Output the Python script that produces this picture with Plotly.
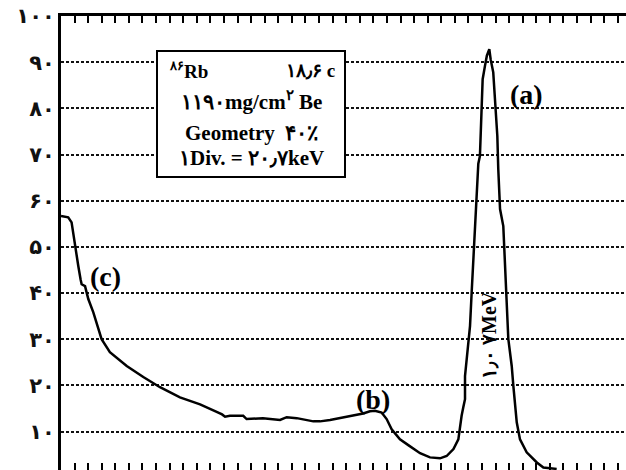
import plotly.graph_objects as go

# ---- data (x in channel divisions, y in relative counts) ----
channel = [0, 0.53, 0.78, 1.03, 1.27, 1.44, 1.52, 1.77, 2.01, 2.38, 2.75, 2.99, 3.6, 4.84, 6.06,
           7.29, 8.76, 10.24, 11.34, 11.86, 12.08, 12.44, 13.42, 13.67, 14.87, 16.13, 16.62, 17.36,
           18.58, 19.07, 19.81, 20.54, 21.52, 22.25, 22.75, 23.12, 23.61, 23.98, 24.35, 24.96, 25.6,
           26.44, 27.17, 27.91, 28.4, 28.9, 29.26, 29.38, 29.5, 29.62, 29.75, 29.75, 29.88, 30.0,
           30.12, 30.24, 30.36, 30.49, 30.62, 30.73, 30.85, 30.98, 31.05, 31.22, 31.36, 31.54,
           31.64, 31.83, 31.96, 32.03, 32.13, 32.2, 32.33, 32.57, 32.7, 32.82, 32.94, 33.19, 33.31,
           33.43, 33.56, 33.8, 34.29, 35.04, 35.52, 36.5]
counts = [56.7, 56.4, 55.3, 50.2, 45.9, 43.0, 41.9, 41.5, 38.7, 35.8, 32.2, 30.0, 27.2, 24.2, 21.8,
          19.6, 17.4, 15.9, 14.4, 13.7, 13.2, 13.4, 13.4, 12.7, 12.9, 12.5, 13.1, 12.9,
          12.2, 12.2, 12.5, 12.9, 13.5, 13.9, 14.4, 14.5, 14.1, 12.7, 10.5, 8.3, 7.0,
          5.3, 4.4, 4.2, 4.7, 6.2, 8.3, 11.2, 13.4, 15.2, 17.0, 22.0, 25.7, 30.0,
          32.9, 40.1, 47.3, 54.5, 60.3, 68.0, 69.7, 79.1, 86.3, 89.2, 91.4, 92.8,
          90.6, 87.8, 82.7, 79.1, 74.0, 66.8, 58.2, 54.5, 47.3, 37.9, 30.0, 24.2, 19.9,
          15.6, 12.0, 8.3, 5.5, 3.3, 2.2, 1.9]

y_tickvals = [10, 20, 30, 40, 50, 60, 70, 80, 90, 100]
y_ticktext = ["۱۰", "۲۰", "۳۰", "۴۰", "۵۰", "۶۰", "۷۰", "۸۰", "۹۰", "۱۰۰"]
zero_label = "۰"

source_label = "<sup>۸۶</sup>Rb"
activity_label = "۱۸٫۶ c"
info_lines = ["۱۱۹۰mg/cm<sup>۲</sup> Be", "Geometry  ۴۰٪", "۱Div. = ۲۰٫۷keV"]
peak_labels = ["(a)", "(b)", "(c)"]
peak_energy = "۱٫۰ ۷MeV"

# ---- layout geometry ----
W, H = 626, 470
ML, MR, MT, MB = 61, 0, 16, 0
XMAX = (W - ML - MR) / 13.58
YMIN = 100 - (H - MB - MT) / 4.617

def px2x(px):
    return (px - ML) / 13.58

def py2y(py):
    return 100 - (py - MT) / 4.617

fig = go.Figure()
fig.add_trace(go.Scatter(x=channel, y=counts, mode="lines",
                         line=dict(color="black", width=2.5), showlegend=False))

serif = "Liberation Serif, DejaVu Serif, serif"
box_font = dict(family=serif, size=21, color="black")
anns = []
anns.append(dict(x=px2x(167), y=py2y(70), text="<b>" + source_label + "</b>", xanchor="left",
                 font=dict(family=serif, size=19, color="black"), showarrow=False))
anns.append(dict(x=px2x(337), y=py2y(70), text="<b>" + activity_label + "</b>", xanchor="right",
                 font=dict(family=serif, size=19, color="black"), showarrow=False))
for txt, py in zip(info_lines, [100, 133, 158]):
    anns.append(dict(x=px2x(251), y=py2y(py), text="<b>" + txt + "</b>", xanchor="center",
                     font=box_font, showarrow=False))
for txt, (px, py) in zip(peak_labels, [(526, 94), (373, 399), (105, 276)]):
    anns.append(dict(x=px2x(px), y=py2y(py), text="<b>" + txt + "</b>",
                     font=dict(family=serif, size=28, color="black"), showarrow=False))
anns.append(dict(x=px2x(489), y=py2y(335), text="<b>" + peak_energy + "</b>", textangle=-90,
                 font=dict(family=serif, size=20, color="black"), showarrow=False))
anns.append(dict(x=0, y=0, xref="paper", yref="paper", text="<b>" + zero_label + "</b>",
                 xanchor="right", yanchor="middle", yshift=-6, xshift=-30,
                 font=dict(family="DejaVu Sans", size=21, color="#111"), showarrow=False))

fig.update_layout(
    width=W, height=H,
    margin=dict(l=ML, r=MR, t=MT, b=MB, autoexpand=False),
    paper_bgcolor="white", plot_bgcolor="white",
    annotations=anns,
    shapes=[dict(type="rect", xref="x", yref="y", x0=px2x(157), x1=px2x(345),
                 y0=py2y(177), y1=py2y(51), line=dict(color="black", width=2),
                 fillcolor="white", layer="above")],
    xaxis=dict(range=[0, XMAX], automargin=False, showgrid=False, zeroline=False,
               showticklabels=False, ticks="inside", ticklen=7, tickwidth=2, tickcolor="black",
               tick0=0, dtick=1, showline=True, linecolor="black", linewidth=3,
               mirror="allticks"),
    yaxis=dict(range=[YMIN, 100], automargin=False, tickvals=y_tickvals,
               ticktext=["<b>" + t + "</b>" for t in y_ticktext],
               showgrid=True, gridcolor="#111", gridwidth=1.8, griddash="3px,2px",
               zeroline=False, ticks="", ticklabelstandoff=-1,
               tickfont=dict(family="DejaVu Sans", size=21, color="#111"),
               showline=True, linecolor="black", linewidth=3, mirror=False),
)

fig.write_html("out.html", config={"displayModeBar": False},
               post_script="document.body.style.margin='0px';document.body.style.overflow='hidden';")
